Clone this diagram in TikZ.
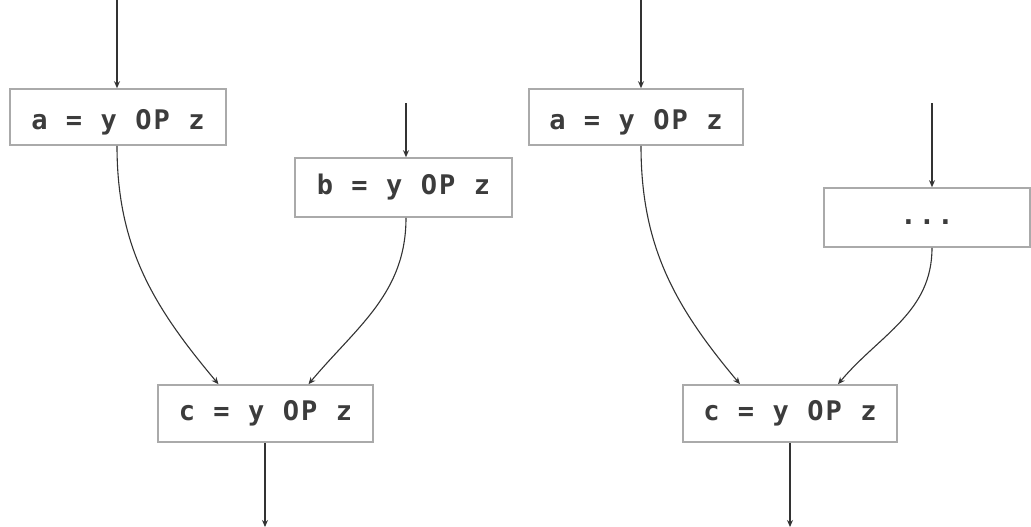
\documentclass[tikz,border=0pt]{standalone}
\usepackage{fontspec}
\newfontfamily\codefont[LetterSpace=8]{DejaVu Sans Mono Bold}
\usetikzlibrary{arrows.meta}
\definecolor{boxline}{HTML}{AAAAAA}
\definecolor{codetext}{HTML}{3C3C3C}
\definecolor{edge}{HTML}{333333}
\tikzset{
  stmt/.style={draw=boxline, line width=1.6pt, fill=white, inner sep=0pt,
    font=\codefont\fontsize{27}{29}\selectfont, text=codetext},
  lowtext/.style={text height=25pt, text depth=0pt},
  dottext/.style={text height=20pt, text depth=6pt},
  flow/.style={draw=edge, line width=1.1pt, -{Stealth[length=7pt,width=6pt]}},
}
\begin{document}
\begin{tikzpicture}[x=1pt,y=-1pt]
\useasboundingbox (0,0) rectangle (1031,527);

% left graph
\node[stmt, lowtext, minimum width=216pt, minimum height=56pt] (a1) at (118,117) {a = y OP z};
\node[stmt, minimum width=217pt, minimum height=59pt] (b1) at (403.5,187.5) {b = y OP z};
\node[stmt, minimum width=215pt, minimum height=57pt] (c1) at (265.5,413.5) {c = y OP z};
\coordinate (a1in) at (117,0);
\coordinate (b1in) at (406,103);
\coordinate (c1out) at (265,527);

\draw[flow] (a1in) -- (a1in |- a1.north);
\draw[flow] (b1in) -- (b1in |- b1.north);
\draw[flow] (a1in |- a1.south) to[out=-90,in=130] ([xshift=-47pt]c1.north);
\draw[flow] (b1in |- b1.south) to[out=-90,in=50] ([xshift=43pt]c1.north);
\draw[flow] (c1out |- c1.south) -- (c1out);

% right graph
\node[stmt, lowtext, minimum width=214pt, minimum height=56pt] (a2) at (636,117) {a = y OP z};
\node[stmt, dottext, minimum width=206pt, minimum height=59pt] (d2) at (927,217.5) {...};
\node[stmt, minimum width=214pt, minimum height=57pt] (c2) at (790,413.5) {c = y OP z};
\coordinate (a2in) at (641,0);
\coordinate (d2in) at (932,103);
\coordinate (c2out) at (790,527);

\draw[flow] (a2in) -- (a2in |- a2.north);
\draw[flow] (d2in) -- (d2in |- d2.north);
\draw[flow] (a2in |- a2.south) to[out=-90,in=130] ([xshift=-50pt]c2.north);
\draw[flow] (d2in |- d2.south) to[out=-90,in=50] ([xshift=48pt]c2.north);
\draw[flow] (c2out |- c2.south) -- (c2out);
\end{tikzpicture}
\end{document}
